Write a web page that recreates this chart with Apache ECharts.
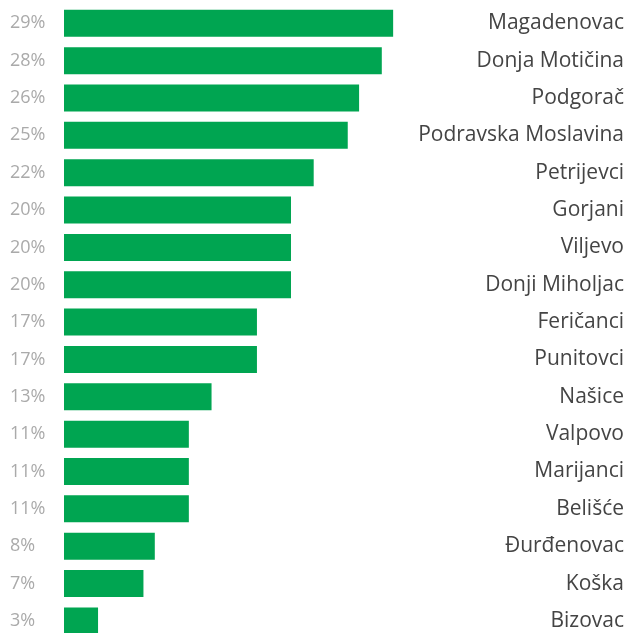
<!DOCTYPE html>
<html>
<head>
<meta charset="utf-8">
<script src="https://cdn.jsdelivr.net/npm/echarts@6/dist/echarts.min.js"></script>
<style>
html, body { margin: 0; padding: 0; background: #fff; }
#chart { width: 628px; height: 633px; }
</style>
</head>
<body>
<div id="chart"></div>
<script>
// općine i udjeli (%)
var names = ["Magadenovac", "Donja Motičina", "Podgorač", "Podravska Moslavina", "Petrijevci",
    "Gorjani", "Viljevo", "Donji Miholjac", "Feričanci", "Punitovci", "Našice", "Valpovo",
    "Marijanci", "Belišće", "Đurđenovac", "Koška", "Bizovac"];
var values = [29, 28, 26, 25, 22, 20, 20, 20, 17, 17, 13, 11, 11, 11, 8, 7, 3];
var percentLabels = values.map(function (v) { return v + "%"; });

var chart = echarts.init(document.getElementById("chart"));
chart.setOption({
    animation: false,
    textStyle: { fontFamily: "Open Sans" },
    grid: {
        left: 64,
        top: 4.6,
        width: 560,
        height: 635,
        outerBoundsMode: "none"
    },
    xAxis: {
        type: "value",
        min: 0,
        max: 49.34,
        show: false
    },
    yAxis: [
        {
            type: "category",
            inverse: true,
            position: "left",
            data: percentLabels,
            axisLine: { show: false },
            axisTick: { show: false },
            axisLabel: {
                align: "left",
                margin: 54,
                color: "#aaaaaa",
                fontSize: 18,
                padding: [4, 0, 0, 0],
                fontFamily: "Open Sans"
            }
        },
        {
            type: "category",
            inverse: true,
            position: "right",
            data: names,
            axisLine: { show: false },
            axisTick: { show: false },
            axisLabel: {
                inside: true,
                margin: 0,
                color: "#444444",
                fontSize: 21,
                padding: [5, 0, 0, 0],
                fontFamily: "Open Sans"
            }
        }
    ],
    series: [
        {
            type: "bar",
            yAxisIndex: 0,
            data: values,
            barWidth: 27,
            itemStyle: { color: "#00a551" },
            silent: true
        }
    ]
});
</script>
</body>
</html>
